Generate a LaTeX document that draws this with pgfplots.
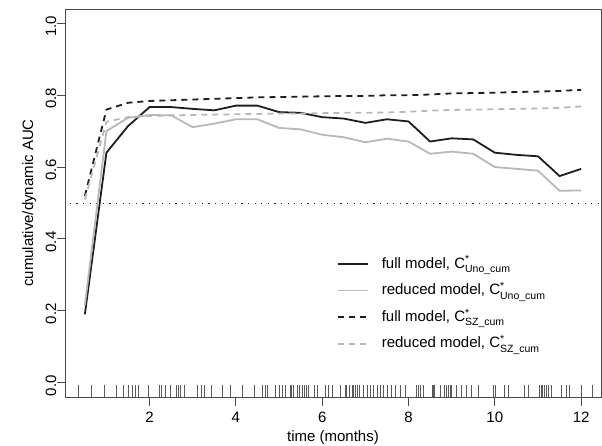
\documentclass[border=0pt]{standalone}
\usepackage{fontspec}
\setmainfont{Liberation Sans}
\usepackage{amsmath}
\usepackage{pgfplots}
\pgfplotsset{compat=1.18}
\usepackage{pgfplotstable}

\definecolor{blk}{HTML}{1E1E1E}
\definecolor{gry}{HTML}{B8B8B8}
\definecolor{boxc}{HTML}{4A4A4A}
\definecolor{rugc}{HTML}{5A5A5A}

\pgfplotstableread{
t    fu     ru     fs     rs
0.5  0.190  0.215  0.520  0.510
1.0  0.640  0.700  0.760  0.726
1.5  0.714  0.737  0.779  0.739
2.0  0.767  0.745  0.784  0.742
2.5  0.767  0.744  0.786  0.744
3.0  0.762  0.711  0.788  0.745
3.5  0.758  0.721  0.790  0.746
4.0  0.771  0.733  0.792  0.747
4.5  0.771  0.733  0.794  0.748
5.0  0.753  0.709  0.795  0.749
5.5  0.751  0.705  0.796  0.749
6.0  0.739  0.690  0.797  0.750
6.5  0.735  0.683  0.798  0.751
7.0  0.723  0.669  0.798  0.751
7.5  0.733  0.679  0.800  0.752
8.0  0.727  0.671  0.800  0.754
8.5  0.671  0.637  0.802  0.757
9.0  0.680  0.643  0.805  0.759
9.5  0.677  0.637  0.806  0.760
10.0 0.640  0.600  0.807  0.761
10.5 0.634  0.595  0.809  0.762
11.0 0.630  0.590  0.810  0.763
11.5 0.575  0.534  0.812  0.765
12.0 0.595  0.535  0.815  0.769
}\auc

\pgfplotstableread{
t y
0.35 -0.0229
0.64 -0.0229
0.95 -0.0229
1.22 -0.0229
1.40 -0.0229
1.50 -0.0229
1.59 -0.0229
1.68 -0.0229
1.73 -0.0229
1.96 -0.0229
2.23 -0.0229
2.28 -0.0229
2.37 -0.0229
2.48 -0.0229
2.62 -0.0229
2.67 -0.0229
2.72 -0.0229
2.81 -0.0229
3.11 -0.0229
3.19 -0.0229
3.27 -0.0229
3.42 -0.0229
3.69 -0.0229
3.88 -0.0229
4.15 -0.0229
4.42 -0.0229
4.61 -0.0229
4.68 -0.0229
4.73 -0.0229
4.92 -0.0229
5.00 -0.0229
5.08 -0.0229
5.14 -0.0229
5.27 -0.0229
5.29 -0.0229
5.32 -0.0229
5.34 -0.0229
5.42 -0.0229
5.48 -0.0229
5.54 -0.0229
5.58 -0.0229
5.63 -0.0229
5.69 -0.0229
5.81 -0.0229
5.88 -0.0229
6.08 -0.0229
6.15 -0.0229
6.23 -0.0229
6.42 -0.0229
6.54 -0.0229
6.57 -0.0229
6.63 -0.0229
6.69 -0.0229
6.73 -0.0229
6.77 -0.0229
6.81 -0.0229
6.86 -0.0229
6.96 -0.0229
7.04 -0.0229
7.11 -0.0229
7.19 -0.0229
7.27 -0.0229
7.34 -0.0229
7.42 -0.0229
7.50 -0.0229
7.61 -0.0229
7.69 -0.0229
7.81 -0.0229
7.92 -0.0229
8.17 -0.0229
8.23 -0.0229
8.28 -0.0229
8.34 -0.0229
8.55 -0.0229
8.57 -0.0229
8.60 -0.0229
8.73 -0.0229
8.84 -0.0229
8.88 -0.0229
8.92 -0.0229
8.96 -0.0229
9.00 -0.0229
9.11 -0.0229
9.23 -0.0229
9.34 -0.0229
9.46 -0.0229
9.61 -0.0229
9.96 -0.0229
10.01 -0.0229
10.23 -0.0229
10.32 -0.0229
10.69 -0.0229
10.77 -0.0229
11.04 -0.0229
11.07 -0.0229
11.11 -0.0229
11.15 -0.0229
11.19 -0.0229
11.23 -0.0229
11.32 -0.0229
11.53 -0.0229
11.65 -0.0229
11.73 -0.0229
12.00 -0.0229
12.27 -0.0229
}\rug

\begin{document}
\begin{tikzpicture}
\useasboundingbox (-65bp,-49bp) rectangle (537bp,397bp);
\begin{axis}[
  at={(0,0)}, anchor=south west,
  scale only axis, width=536bp, height=388bp,
  xmin=0.04, xmax=12.46, ymin=-0.04, ymax=1.04,
  axis line style={boxc, line width=0.9bp},
  tick style={boxc, line width=0.9bp},
  tick align=outside, major tick length=8.5bp,
  xtick pos=left, ytick pos=left,
  xtick={2,4,6,8,10,12},
  ytick={0,0.2,0.4,0.6,0.8,1.0},
  /pgf/number format/assume math mode=true,
  yticklabel style={rotate=90, anchor=south, inner sep=0pt, xshift=-3bp,
    /pgf/number format/.cd, fixed, fixed zerofill, precision=1},
  xticklabel style={anchor=north, inner sep=0pt, yshift=-6bp},
  tick label style={font=\fontsize{15bp}{18bp}\selectfont},
  label style={font=\fontsize{15bp}{18bp}\selectfont},
  xlabel={time (months)}, ylabel={cumulative/dynamic AUC},
  xlabel style={at={(axis description cs:0.5,-0.1134)}, anchor=base},
  ylabel style={at={(axis description cs:-0.0597,0.5)}, anchor=base},
  legend style={at={(axis description cs:0.507,0.366)}, anchor=north west,
    draw=none, fill=none, inner sep=0pt, row sep=0pt,
    nodes={inner sep=0pt, text height=13bp, text depth=13.6bp},
    font=\fontsize{15bp}{18bp}\selectfont,
    /tikz/every odd column/.append style={column sep=13bp}},
  legend cell align=left,
  legend image code/.code={\path (0bp,0bp); \draw[#1] (0bp,4.5bp) -- (30bp,4.5bp);},
]
\addplot[forget plot, blk, line width=0.9bp, dash pattern=on 1.1bp off 5.5bp] coordinates {(0,0.5) (13,0.5)};
\addplot[forget plot, only marks, mark=|, mark size=5.8bp, mark options={rugc, line width=0.7bp}] table[x=t, y=y] {\rug};
\addplot[blk, line width=1.8bp] table[x=t, y=fu] {\auc};
\addlegendentry{full model, C$^{\text{*}}_{\text{Uno\_cum}}$}
\addplot[gry, line width=1.8bp] table[x=t, y=ru] {\auc};
\addlegendentry{reduced model, C$^{\text{*}}_{\text{Uno\_cum}}$}
\addplot[blk, line width=1.8bp, dash pattern=on 6bp off 5bp] table[x=t, y=fs] {\auc};
\addlegendentry{full model, C$^{\text{*}}_{\text{SZ\_cum}}$}
\addplot[gry, line width=1.8bp, dash pattern=on 6bp off 5bp] table[x=t, y=rs] {\auc};
\addlegendentry{reduced model, C$^{\text{*}}_{\text{SZ\_cum}}$}
\end{axis}
\end{tikzpicture}
\end{document}
